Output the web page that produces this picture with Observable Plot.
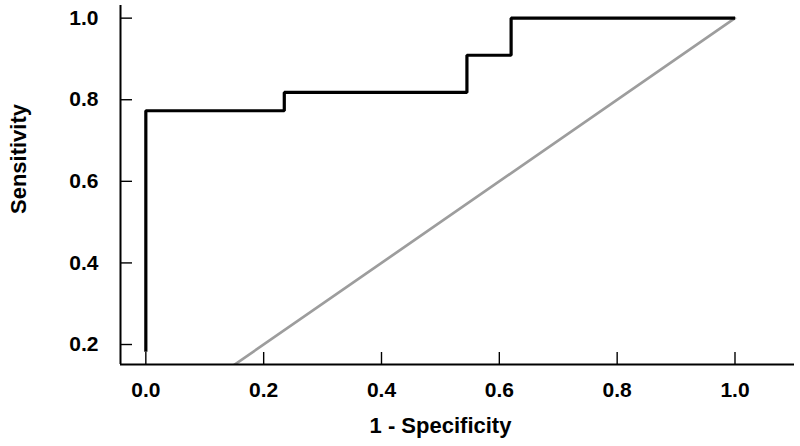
<!DOCTYPE html>
<html>
<head>
<meta charset="utf-8">
<script src="https://cdn.jsdelivr.net/npm/d3@7"></script>
<script src="https://cdn.jsdelivr.net/npm/@observablehq/plot@0.6"></script>
<style>
  html, body { margin: 0; padding: 0; background: #fff; }
  #chart svg { display: block; }
</style>
</head>
<body>
<div id="chart"></div>
<script>
// ROC curve points (step-after)
const fpr = [0, 0, 0.235, 0.545, 0.62, 1.0];
const tpr = [0.182, 0.773, 0.818, 0.909, 1.0, 1.0];
// Reference diagonal
const diagX = [0, 1];
const diagY = [0, 1];
// Axes
const xTicks = [0, 0.2, 0.4, 0.6, 0.8, 1.0];
const yTicks = [0.2, 0.4, 0.6, 0.8, 1.0];
const xDomain = [-0.043, 1.101];
const yDomain = [0.151, 1.031];
const xLabel = "1 - Specificity";
const yLabel = "Sensitivity";

const roc = fpr.map((x, i) => ({x, y: tpr[i]}));
const diag = diagX.map((x, i) => ({x, y: diagY[i]}));
const fmt = d3.format(".1f");
const FONT = "'Liberation Sans', Arial, Helvetica, sans-serif";

const chart = Plot.plot({
  width: 800,
  height: 446,
  marginLeft: 120,
  marginRight: 6,
  marginTop: 5,
  marginBottom: 82,
  style: {fontFamily: FONT, fontWeight: "bold", fontSize: "21px", color: "#000", background: "#fff"},
  x: {domain: xDomain},
  y: {domain: yDomain},
  marks: [
    Plot.line(diag, {x: "x", y: "y", stroke: "#9d9d9d", strokeWidth: 2.7, clip: true}),
    Plot.line(roc, {x: "x", y: "y", curve: "step-after", stroke: "#000", strokeWidth: 3.2, strokeLinejoin: "miter", strokeLinecap: "butt"}),
    Plot.ruleX([xDomain[0]], {stroke: "#000", strokeWidth: 2}),
    Plot.ruleY([yDomain[0]], {stroke: "#000", strokeWidth: 2}),
    Plot.axisX({ticks: xTicks, tickSize: -12, text: null, stroke: "#000", strokeWidth: 1.4, label: null}),
    Plot.axisY({ticks: yTicks, tickSize: -12, text: null, stroke: "#000", strokeWidth: 1.4, label: null}),
    Plot.axisX({ticks: xTicks, tickSize: 0, tickPadding: 18, tickFormat: fmt, fontSize: 21, fontWeight: "bold", fill: "#000", label: null}),
    Plot.axisY({ticks: yTicks, tickSize: 0, tickPadding: 22, tickFormat: fmt, fontSize: 21, fontWeight: "bold", fill: "#000", label: null}),
    Plot.text([xLabel], {text: d => d, frameAnchor: "bottom", dx: -17, dy: 61.5, lineAnchor: "middle", textAnchor: "middle", fontSize: 22, fontWeight: "bold", fill: "#000"}),
    Plot.text([yLabel], {text: d => d, frameAnchor: "left", rotate: -90, dx: -101.5, dy: -26, lineAnchor: "middle", textAnchor: "middle", fontSize: 22, fontWeight: "bold", fill: "#000"})
  ]
});
document.getElementById("chart").appendChild(chart);
</script>
</body>
</html>
